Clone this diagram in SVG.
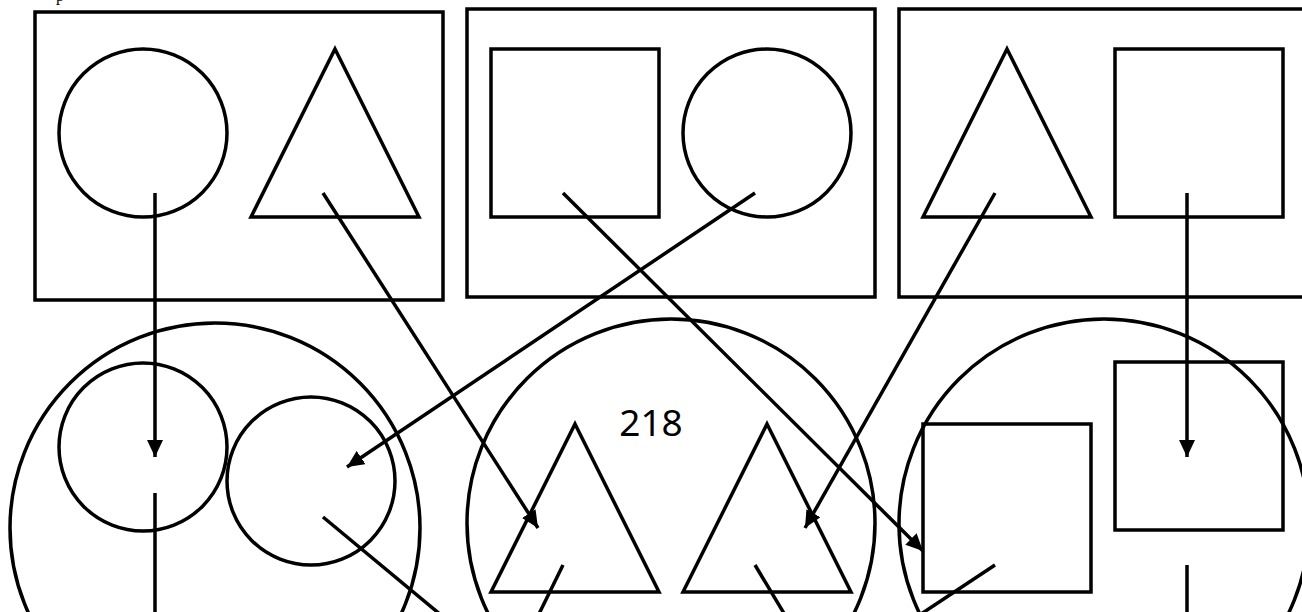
<svg xmlns="http://www.w3.org/2000/svg" width="1302" height="612" viewBox="0 0 1302 612">
<defs>
<style>
.s{fill:none;stroke:#000;stroke-width:3.5}
.c{fill:none;stroke:#000;stroke-width:3.5}
.a{stroke:#000;stroke-width:3.5;fill:none;marker-end:url(#ah)}
.l{stroke:#000;stroke-width:3.5;fill:none}
.t{font-family:"Noto Sans","Open Sans",sans-serif;font-size:37px;fill:#000}
</style>
<marker id="ah" markerUnits="userSpaceOnUse" markerWidth="18" markerHeight="16" refX="17" refY="8" orient="auto">
<path d="M0,0 L17,8 L0,16 z" fill="#000"/>
</marker>
</defs>
<rect width="1302" height="612" fill="#fff"/>
<text x="56" y="1" font-family="Liberation Serif,serif" font-size="16" fill="#000">p</text>
<g id="box1">
<rect class="s" x="35" y="12" width="408" height="288"/>
<circle id="n1" class="c" cx="143" cy="133" r="84"/>
<polygon id="n2" class="s" points="335,49 419,217 251,217"/>
</g>
<g id="box2">
<rect class="s" x="467" y="9" width="408" height="288"/>
<rect id="n3" class="s" x="491" y="49" width="168" height="168"/>
<circle id="n4" class="c" cx="767" cy="133" r="84"/>
</g>
<g id="box3">
<rect class="s" x="899" y="9" width="420" height="288"/>
<polygon id="n5" class="s" points="1007,49 1091,217 923,217"/>
<rect id="n6" class="s" x="1115" y="49" width="168" height="168"/>
</g>
<g id="groupA">
<circle class="c" cx="215" cy="528" r="205"/>
<circle id="n7" class="c" cx="143" cy="447" r="84"/>
<circle id="n8" class="c" cx="311" cy="481" r="84"/>
</g>
<g id="groupB">
<circle class="c" cx="671" cy="523" r="204"/>
<polygon id="n9" class="s" points="575,424 659,592 491,592"/>
<polygon id="n10" class="s" points="767,424 851,592 683,592"/>
<text class="t" x="651" y="436" text-anchor="middle">218</text>
</g>
<g id="groupC">
<circle class="c" cx="1104" cy="524" r="205"/>
<rect id="n11" class="s" x="923" y="424" width="168" height="168"/>
<rect id="n12" class="s" x="1115" y="362" width="168" height="168"/>
</g>
<g id="connectors">
<line class="a" x1="155" y1="193" x2="155" y2="457"/>
<line class="a" x1="323" y1="193" x2="538" y2="528"/>
<line class="a" x1="755" y1="193" x2="347" y2="467"/>
<line class="a" x1="563" y1="193" x2="923" y2="551"/>
<line class="a" x1="995" y1="193" x2="805" y2="528"/>
<line class="a" x1="1187" y1="193" x2="1187" y2="457"/>
<line class="l" x1="155" y1="493" x2="155" y2="620"/>
<line class="l" x1="323" y1="517" x2="447" y2="620"/>
<line class="l" x1="563" y1="565" x2="536" y2="620"/>
<line class="l" x1="755" y1="565" x2="788" y2="620"/>
<line class="l" x1="995" y1="565" x2="912" y2="620"/>
<line class="l" x1="1187" y1="565" x2="1187" y2="620"/>
</g>
</svg>
